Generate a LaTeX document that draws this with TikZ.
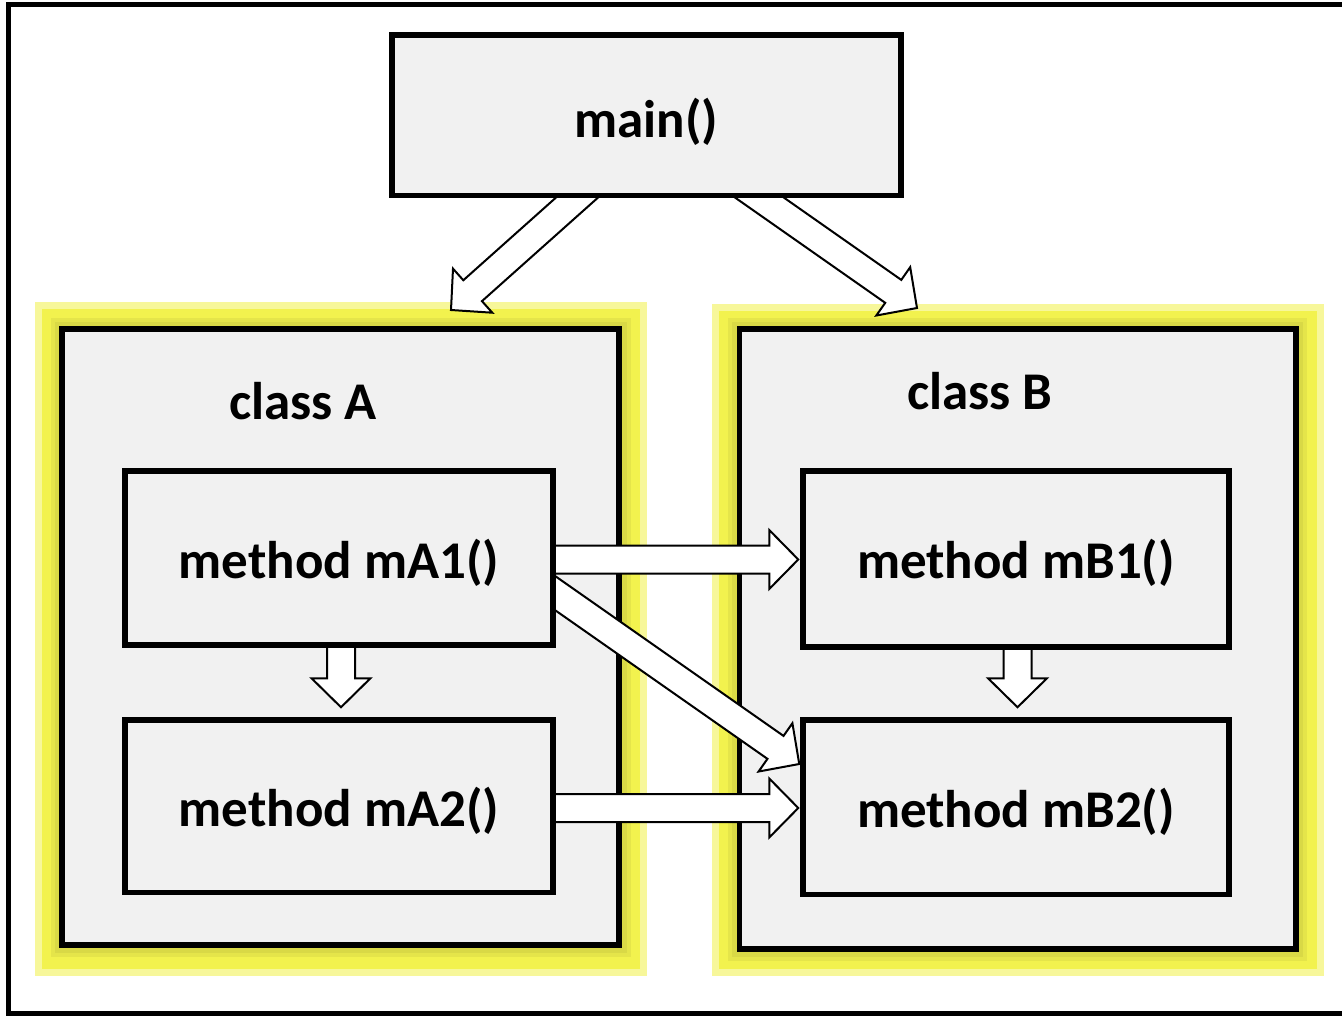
\documentclass[tikz,border=0pt]{standalone}
\usepackage{fontspec}
\setmainfont{Carlito}
\usetikzlibrary{calc,shadows}
\definecolor{boxgray}{HTML}{F1F1F1}
\definecolor{glowpale}{HTML}{F7F79A}
\definecolor{glowbright}{HTML}{F2F24E}
\pgfdeclarelayer{bg}
\pgfdeclarelayer{mid}
\pgfsetlayers{bg,mid,main}
\tikzset{
  lbl/.style={font=\fontsize{53}{60}\selectfont\bfseries, inner sep=0pt},
  box/.style={draw=black, line width=5.5pt, fill=boxgray, lbl,
    drop shadow={shadow xshift=3pt, shadow yshift=-3pt, opacity=0.35, fill=black}},
  arrowfill/.style={fill=white},
  arrowline/.style={draw=black, line width=2pt, line join=miter},
}
\newcommand\lowtext[2]{\raisebox{-#1}[\height][\depth]{#2}}
\newcommand\barrow[2]{%
  \coordinate (bh) at ($(#2)!29pt!(#1)$);
  \fill[arrowfill] ($(#1)!14pt!90:(#2)$) -- ($(bh)!14pt!-90:(#1)$) -- ($(bh)!29.5pt!-90:(#1)$) -- (#2) -- ($(bh)!29.5pt!90:(#1)$) -- ($(bh)!14pt!90:(#1)$) -- ($(#1)!14pt!-90:(#2)$) -- cycle;
  \draw[arrowline] ($(#1)!14pt!90:(#2)$) -- ($(bh)!14pt!-90:(#1)$) -- ($(bh)!29.5pt!-90:(#1)$) -- (#2) -- ($(bh)!29.5pt!90:(#1)$) -- ($(bh)!14pt!90:(#1)$) -- ($(#1)!14pt!-90:(#2)$);}
\begin{document}
\begin{tikzpicture}[x=1pt,y=-1pt]
\useasboundingbox (0,0) rectangle (1342,1016);
\begin{pgfonlayer}{bg}
\fill[white] (0,0) rectangle (1342,1016);
% outer frame
\draw[line width=5pt] (8.5,4.5) rectangle (1380,1013.5);
% class A glow
\fill[glowpale] (35,302) rectangle (647,976);
\fill[glowbright] (42,309) rectangle (640,969);
\fill[black,opacity=0.05] (51,318) rectangle (631,957);
\fill[black,opacity=0.05] (55,322) rectangle (627,953);
% class B glow
\fill[glowpale] (712,304) rectangle (1324,976);
\fill[glowbright] (719,311) rectangle (1317,969);
\fill[black,opacity=0.05] (728,318) rectangle (1307,961);
\fill[black,opacity=0.05] (732,322) rectangle (1303,957);
% class boxes
\node[box, minimum width=557pt, minimum height=616pt] (classA) at (340.5,637) {};
\node[box, minimum width=556.5pt, minimum height=620pt] (classB) at (1017.75,639) {};
\node[lbl] (labA) at (303,401) {class A};
\node[lbl] (labB) at (980,391) {class B};
\end{pgfonlayer}
% boxes (on top of connector ends)
\node[box, minimum width=509pt, minimum height=160.5pt] (main) at (646.5,115.25) {\lowtext{7pt}{main()}};
\node[box, minimum width=428pt, minimum height=174pt] (mA1) at (339,558) {\lowtext{5pt}{method mA1()}};
\node[box, minimum width=428pt, minimum height=172.5pt] (mA2) at (339,806) {\lowtext{5pt}{method mA2()}};
\node[box, minimum width=426pt, minimum height=176pt] (mB1) at (1016,559) {\lowtext{4pt}{method mB1()}};
\node[box, minimum width=426pt, minimum height=174.5pt] (mB2) at (1016,807) {\lowtext{5pt}{method mB2()}};
\begin{pgfonlayer}{mid}
% connector end points
\coordinate (a1s) at ($(main.south)+(-51.2,-17)$);
\coordinate (a1t) at (451,310);
\coordinate (a2s) at ($(main.south)+(90,-16.75)$);
\coordinate (a2t) at (917,308);
\coordinate (a3s) at ($(mA1.east)+(-10,1.5)$);
\coordinate (a3t) at ($(mB1.west |- mA1.east)+(-2,1.5)$);
\coordinate (a4s) at ($(mA1.east)+(-24.35,18.5)$);
\coordinate (a4t) at ($(mB2.west)+(-1,-43)$);
\coordinate (a5s) at ($(mA2.east)+(-10,2)$);
\coordinate (a5t) at ($(mB2.west |- mA2.east)+(-2,2)$);
\coordinate (a6s) at ($(mA1.south)+(2,-10)$);
\coordinate (a6t) at ($(mA2.north)+(2,-9.75)$);
\coordinate (a7s) at ($(mB1.south)+(1.5,-10)$);
\coordinate (a7t) at ($(mB2.north)+(1.5,-9.75)$);
\barrow{a1s}{a1t}
\barrow{a2s}{a2t}
\barrow{a3s}{a3t}
\barrow{a4s}{a4t}
\barrow{a5s}{a5t}
\barrow{a6s}{a6t}
\barrow{a7s}{a7t}
\end{pgfonlayer}
\end{tikzpicture}
\end{document}
